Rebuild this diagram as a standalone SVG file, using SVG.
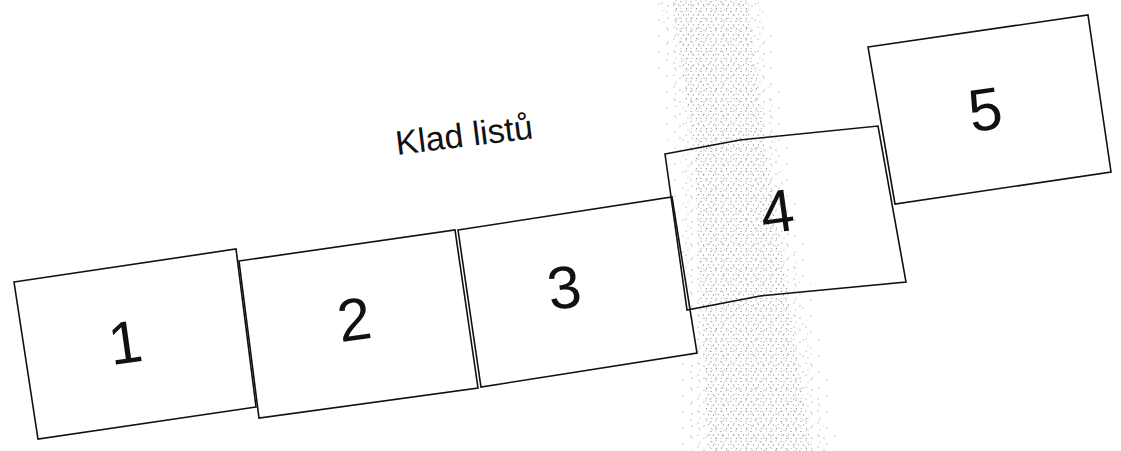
<svg xmlns="http://www.w3.org/2000/svg" width="1121" height="451" viewBox="0 0 1121 451">
  <style>
    .sheet { fill: #fff; stroke: #111; stroke-width: 1.6; stroke-linejoin: miter; }
    .sheet.open { fill: none; }
    .num { font-family: "Liberation Sans", Arial, sans-serif; font-size: 60px; fill: #111; text-anchor: middle; }
    .label { font-family: "Liberation Sans", Arial, sans-serif; font-size: 34px; fill: #111; }
  </style>
  <defs>
    <pattern id="dots" width="10" height="10" patternUnits="userSpaceOnUse">
      <circle cx="1" cy="1.5" r="0.6" fill="#777"/>
      <circle cx="6" cy="0.8" r="0.55" fill="#999"/>
      <circle cx="3.4" cy="5" r="0.6" fill="#666"/>
      <circle cx="8.4" cy="4.6" r="0.55" fill="#888"/>
      <circle cx="1.2" cy="8.2" r="0.55" fill="#999"/>
      <circle cx="6.4" cy="8.6" r="0.6" fill="#777"/>
    </pattern>
    <pattern id="dotsMid" width="12" height="12" patternUnits="userSpaceOnUse">
      <circle cx="2" cy="3" r="0.6" fill="#888"/>
      <circle cx="8" cy="6" r="0.6" fill="#777"/>
      <circle cx="4" cy="10" r="0.55" fill="#999"/>
    </pattern>
    <pattern id="dotsSparse" width="16" height="16" patternUnits="userSpaceOnUse">
      <circle cx="3" cy="4" r="0.6" fill="#888"/>
      <circle cx="11" cy="12" r="0.6" fill="#999"/>
    </pattern>
  </defs>
  <rect width="1121" height="451" fill="#fff"/>

  <g id="band">
    <polygon points="650,0 768,0 788,150 840,451 680,451 668,150" fill="url(#dotsSparse)"/>
    <polygon points="660,0 760,0 778,150 828,451 692,451 680,150" fill="url(#dotsMid)"/>
    <polygon points="672,0 748,0 766,150 812,451 708,451 694,150" fill="url(#dots)"/>
  </g>

  <g id="sheet-1">
    <polygon class="sheet" points="14,282 236,249 256,407 38,439"/>
    <text class="num" x="128" y="363" transform="rotate(-8 128 363)">1</text>
  </g>
  <g id="sheet-2">
    <polygon class="sheet" points="239,261 455,230 478,388 259,418"/>
    <text class="num" x="357" y="340" transform="rotate(-8 357 340)">2</text>
  </g>
  <g id="sheet-3">
    <polygon class="sheet" points="458,230 672,197 697,353 481,387"/>
    <text class="num" x="567" y="308" transform="rotate(-8 567 308)">3</text>
  </g>
  <g id="sheet-4">
    <polygon class="sheet open" points="665,154 740,140 878,126 906,282 760,296 687,310"/>
    <text class="num" x="780" y="232" transform="rotate(-8 780 232)">4</text>
  </g>
  <g id="sheet-5">
    <polygon class="sheet" points="868,47 1088,15 1111,172 895,204"/>
    <text class="num" x="988" y="130" transform="rotate(-8 988 130)">5</text>
  </g>

  <g id="title">
    <text class="label" x="397" y="155" transform="rotate(-7 397 155)">Klad listů</text>
  </g>

  <g id="connectors"></g>
</svg>
